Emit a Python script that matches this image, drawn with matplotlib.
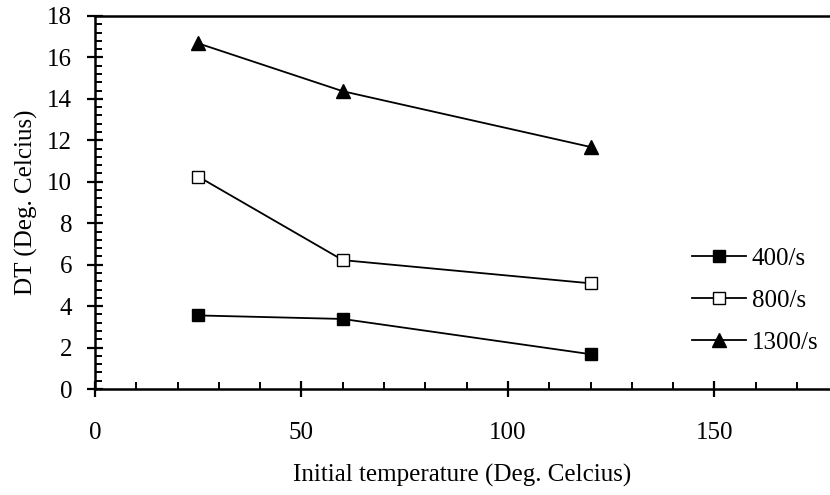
import matplotlib
matplotlib.use("Agg")
import matplotlib.pyplot as plt
from matplotlib.ticker import MultipleLocator

plt.rcParams['font.family'] = ['Liberation Serif', 'DejaVu Serif']
plt.rcParams['font.size'] = 18

# initial temperature (deg C)
temps = [25, 60, 120]
# DT (deg C) for each strain rate
dt_400 = [3.55, 3.38, 1.68]
dt_800 = [10.25, 6.22, 5.1]
dt_1300 = [16.68, 14.37, 11.68]
labels = ["400/s", "800/s", "1300/s"]

fig = plt.figure(figsize=(8.3, 4.95), dpi=100)
ax = fig.add_axes([95/830, 1 - 389/495, 1 - 95/830, (389 - 16)/495])

ax.plot(temps, dt_400, color='black', lw=1.3, marker='s', ms=9,
        mfc='black', mec='black', label=labels[0])
ax.plot(temps, dt_800, color='black', lw=1.3, marker='s', ms=9,
        mfc='white', mec='black', mew=1.0, label=labels[1])
ax.plot(temps, dt_1300, color='black', lw=1.3, marker='^', ms=10,
        mfc='black', mec='black', label=labels[2])

ax.set_xlim(0, 178)
ax.set_ylim(0, 18)
ax.xaxis.set_major_locator(MultipleLocator(50))
ax.xaxis.set_minor_locator(MultipleLocator(10))
ax.yaxis.set_major_locator(MultipleLocator(2))
ax.yaxis.set_minor_locator(MultipleLocator(0.4))

ax.tick_params(which='major', direction='inout', length=11, width=1.6)
ax.tick_params(which='minor', direction='in', length=5, width=1.4)
ax.tick_params(axis='x', which='major', pad=18)
ax.tick_params(axis='y', which='major', pad=11)

for s in ['left', 'bottom', 'top']:
    ax.spines[s].set_linewidth(1.8)
ax.spines['right'].set_visible(False)

ax.set_xlabel("Initial temperature (Deg. Celcius)")
ax.set_ylabel("DT (Deg. Celcius)")
ax.xaxis.set_label_coords(0.5, -0.2)
ax.yaxis.set_label_coords(-0.078, 0.5)

ax.legend(loc='upper left', bbox_to_anchor=(0.812, 0.379), frameon=False,
          borderpad=0, borderaxespad=0, handlelength=2.16, handletextpad=0.24,
          labelspacing=0.78)

fig.savefig("out.png", dpi=100)
